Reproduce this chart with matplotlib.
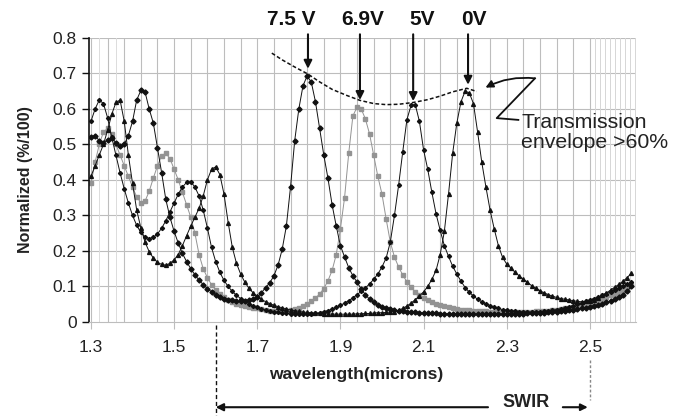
import numpy as np
import matplotlib
matplotlib.use("Agg")
import matplotlib.pyplot as plt
import matplotlib.transforms as mtransforms

plt.rcParams["font.family"] = ["Liberation Sans", "DejaVu Sans"]

# wavelength grid (microns), one reading every 0.01
wavelength = np.round(np.linspace(1.30, 2.60, 131), 2)

# normalized transmission, 1.30 ... 2.60
t_75v = [
    0.52, 0.525, 0.51, 0.505, 0.512, 0.518, 0.505, 0.495, 0.50, 0.525,
    0.565, 0.625, 0.652, 0.648, 0.60, 0.56, 0.49, 0.42, 0.345, 0.295,
    0.255, 0.222, 0.193, 0.17, 0.15, 0.133, 0.118, 0.105, 0.094, 0.085,
    0.077, 0.071, 0.066, 0.063, 0.061, 0.059, 0.058, 0.059, 0.061, 0.064,
    0.069, 0.082, 0.097, 0.11, 0.13, 0.16, 0.205, 0.27, 0.38, 0.51,
    0.60, 0.665, 0.693, 0.675, 0.62, 0.545, 0.47, 0.405, 0.33, 0.27,
    0.215, 0.183, 0.153, 0.13, 0.112, 0.093, 0.077, 0.064, 0.055, 0.048,
    0.043, 0.039, 0.036, 0.034, 0.032, 0.030, 0.029, 0.028, 0.027, 0.026,
    0.025, 0.025, 0.024, 0.024, 0.023, 0.023, 0.023, 0.022, 0.022, 0.022,
    0.022, 0.022, 0.022, 0.022, 0.022, 0.022, 0.022, 0.022, 0.022, 0.022,
    0.022, 0.022, 0.023, 0.023, 0.023, 0.024, 0.024, 0.025, 0.025, 0.026,
    0.027, 0.028, 0.029, 0.030, 0.031, 0.033, 0.034, 0.036, 0.038, 0.040,
    0.042, 0.045, 0.048, 0.051, 0.055, 0.059, 0.064, 0.070, 0.077, 0.087,
    0.10,
]
t_69v = [
    0.39, 0.45, 0.50, 0.535, 0.545, 0.53, 0.50, 0.47, 0.44, 0.41,
    0.38, 0.352, 0.336, 0.34, 0.368, 0.405, 0.44, 0.468, 0.475, 0.46,
    0.43, 0.40, 0.365, 0.33, 0.295, 0.25, 0.19, 0.15, 0.125, 0.105,
    0.09, 0.079, 0.07, 0.063, 0.057, 0.052, 0.048, 0.045, 0.042, 0.04,
    0.038, 0.036, 0.034, 0.032, 0.031, 0.030, 0.030, 0.031, 0.033, 0.036,
    0.040, 0.045, 0.051, 0.058, 0.067, 0.079, 0.094, 0.116, 0.145, 0.19,
    0.262, 0.35, 0.475, 0.58, 0.605, 0.60, 0.572, 0.53, 0.47, 0.41,
    0.36, 0.29, 0.225, 0.183, 0.155, 0.132, 0.113, 0.098, 0.085, 0.075,
    0.067, 0.061, 0.056, 0.051, 0.047, 0.044, 0.041, 0.039, 0.037, 0.035,
    0.034, 0.033, 0.032, 0.031, 0.030, 0.030, 0.029, 0.029, 0.028, 0.028,
    0.028, 0.028, 0.028, 0.028, 0.028, 0.029, 0.029, 0.030, 0.030, 0.031,
    0.032, 0.033, 0.035, 0.036, 0.038, 0.040, 0.042, 0.045, 0.048, 0.051,
    0.054, 0.058, 0.062, 0.066, 0.070, 0.075, 0.080, 0.085, 0.091, 0.098,
    0.105,
]
t_5v = [
    0.565, 0.60, 0.625, 0.615, 0.575, 0.52, 0.47, 0.42, 0.375, 0.335,
    0.30, 0.272, 0.252, 0.24, 0.235, 0.238, 0.248, 0.264, 0.285, 0.31,
    0.335, 0.36, 0.38, 0.393, 0.395, 0.38, 0.355, 0.315, 0.265, 0.21,
    0.17, 0.14, 0.117, 0.10, 0.086, 0.075, 0.066, 0.058, 0.051, 0.046,
    0.041, 0.037, 0.034, 0.031, 0.029, 0.027, 0.025, 0.024, 0.023, 0.022,
    0.022, 0.022, 0.022, 0.023, 0.024, 0.026, 0.029, 0.032, 0.036, 0.041,
    0.047, 0.053, 0.06, 0.068, 0.077, 0.086, 0.096, 0.107, 0.12, 0.135,
    0.155, 0.18, 0.225, 0.30, 0.385, 0.48, 0.57, 0.61, 0.612, 0.565,
    0.485, 0.43, 0.365, 0.305, 0.258, 0.215, 0.185, 0.157, 0.135, 0.115,
    0.097, 0.084, 0.073, 0.064, 0.057, 0.051, 0.046, 0.042, 0.038, 0.035,
    0.033, 0.031, 0.030, 0.029, 0.028, 0.028, 0.028, 0.028, 0.029, 0.030,
    0.031, 0.033, 0.035, 0.037, 0.040, 0.043, 0.046, 0.050, 0.054, 0.058,
    0.062, 0.066, 0.070, 0.075, 0.080, 0.085, 0.090, 0.095, 0.10, 0.106,
    0.112,
]
t_0v = [
    0.41, 0.44, 0.47, 0.50, 0.54, 0.585, 0.618, 0.625, 0.565, 0.47,
    0.39, 0.315, 0.265, 0.225, 0.198, 0.18, 0.168, 0.162, 0.16, 0.165,
    0.175, 0.19, 0.215, 0.243, 0.27, 0.295, 0.32, 0.355, 0.40, 0.43,
    0.437, 0.415, 0.36, 0.28, 0.21, 0.165, 0.135, 0.112, 0.095, 0.082,
    0.072, 0.064, 0.057, 0.052, 0.047, 0.043, 0.040, 0.037, 0.034, 0.032,
    0.030, 0.028, 0.027, 0.026, 0.025, 0.024, 0.023, 0.023, 0.022, 0.022,
    0.022, 0.022, 0.022, 0.022, 0.023, 0.023, 0.024, 0.024, 0.025, 0.026,
    0.026, 0.027, 0.028, 0.029, 0.033, 0.038, 0.045, 0.053, 0.063, 0.073,
    0.085, 0.10, 0.12, 0.145, 0.19, 0.255, 0.36, 0.475, 0.56, 0.62,
    0.65, 0.645, 0.615, 0.535, 0.45, 0.38, 0.315, 0.262, 0.215, 0.182,
    0.163, 0.152, 0.14, 0.13, 0.12, 0.112, 0.102, 0.095, 0.088, 0.082,
    0.077, 0.073, 0.069, 0.066, 0.064, 0.062, 0.060, 0.058, 0.057, 0.058,
    0.060, 0.063, 0.068, 0.075, 0.082, 0.090, 0.098, 0.106, 0.115, 0.125,
    0.138,
]

# peak labels and where their arrows point
peak_labels = ["7.5 V", "6.9V", "5V", "0V"]
peak_label_x = [1.781, 1.954, 2.096, 2.221]
peak_x = [1.822, 1.947, 2.075, 2.207]
peak_tip_y = [0.713, 0.625, 0.622, 0.668]

# hand-drawn transmission envelope
env_x = [1.735, 1.76, 1.79, 1.822, 1.85, 1.88, 1.915, 1.947, 1.98, 2.01,
         2.04, 2.075, 2.11, 2.14, 2.17, 2.204, 2.228]
env_y = [0.757, 0.738, 0.718, 0.698, 0.676, 0.655, 0.638, 0.624, 0.615, 0.612,
         0.613, 0.618, 0.626, 0.636, 0.648, 0.658, 0.649]

swir_start, swir_end = 1.6, 2.5

fig = plt.figure(figsize=(6.83, 4.16), dpi=100)
ax = fig.add_axes([0.131, 0.226, 0.800, 0.683])

# grid: horizontal every 0.1, vertical every 0.04 plus faint dense strip at the right
for y in np.arange(0.1, 0.81, 0.1):
    ax.axhline(y, color="#bdbdbd", lw=0.8, zorder=0)
for x in np.arange(1.30, 2.505, 0.04):
    ax.axvline(x, color="#bdbdbd", lw=0.8, zorder=0)
for x in [1.32, 1.36]:
    ax.axvline(x, color="#dcdcdc", lw=0.7, zorder=0)
for x in np.arange(2.512, 2.612, 0.012):
    ax.axvline(x, color="#d6d6d6", lw=0.7, zorder=0)

black = "#111111"
grey = "#939393"
ax.plot(wavelength, t_75v, color=black, lw=0.7, marker="D", ms=2.6, zorder=3)
ax.plot(wavelength, t_69v, color=grey, lw=0.7, marker="s", ms=2.6, zorder=2)
ax.plot(wavelength, t_5v, color=black, lw=0.7, marker="D", ms=2.1, zorder=3)
ax.plot(wavelength, t_0v, color=black, lw=0.7, marker="^", ms=2.8, zorder=3)

# envelope
ax.plot(env_x, env_y, color=black, lw=1.1, ls=(0, (2.5, 1.5)), zorder=4, clip_on=False)

# voltage labels with arrows
for lab, lx, px, ty in zip(peak_labels, peak_label_x, peak_x, peak_tip_y):
    ax.text(lx, 0.852, lab, ha="center", va="center", fontsize=15,
            fontweight="bold", color=black, clip_on=False)
    ax.annotate("", xy=(px, ty), xytext=(px, 0.81),
                arrowprops=dict(arrowstyle="-|>", lw=1.5, color=black,
                                mutation_scale=12, shrinkA=0, shrinkB=0),
                annotation_clip=False)

# "Transmission envelope" callout with its Z-shaped pointer
ax.plot([2.328, 2.276, 2.368], [0.569, 0.574, 0.686], color=black, lw=1.3,
        clip_on=False, zorder=4)
ax.annotate("", xy=(2.249, 0.660), xytext=(2.368, 0.686),
            arrowprops=dict(arrowstyle="-|>", lw=1.3, color=black,
                            mutation_scale=11, shrinkA=0, shrinkB=0,
                            connectionstyle="arc3,rad=0.15"),
            annotation_clip=False)
ax.text(2.335, 0.533, "Transmission\nenvelope >60%", ha="left", va="center",
        fontsize=15.3, color="#222222", linespacing=1.1, clip_on=False)

ax.set_xlim(1.2964, 2.6107)
ax.set_ylim(0, 0.8)
ax.set_xticks([1.3, 1.5, 1.7, 1.9, 2.1, 2.3, 2.5])
ax.set_xticklabels(["1.3", "1.5", "1.7", "1.9", "2.1", "2.3", "2.5"])
ax.set_yticks(np.arange(0, 0.81, 0.1))
ax.set_yticklabels(["0", "0.1", "0.2", "0.3", "0.4", "0.5", "0.6", "0.7", "0.8"])
ax.tick_params(axis="x", direction="out", length=5, width=0.8, color="#bdbdbd",
               labelsize=12.5, labelcolor="#222222", pad=8)
ax.tick_params(axis="y", direction="out", length=5, width=1.0, color=black,
               labelsize=12.5, labelcolor="#222222", pad=4)

for side in ["top", "right"]:
    ax.spines[side].set_visible(False)
ax.spines["left"].set_color(black)
ax.spines["left"].set_linewidth(1.2)
ax.spines["bottom"].set_color("#bdbdbd")
ax.spines["bottom"].set_linewidth(0.8)

ax.set_xlabel("wavelength(microns)", fontsize=12.5, fontweight="bold", color="#222222")
ax.xaxis.set_label_coords(0.489, -0.16)
ax.set_ylabel("Normalized (%/100)", fontsize=11.5, fontweight="bold", color="#222222")
ax.yaxis.set_label_coords(-0.103, 0.503)

# SWIR band marker below the axis
trans = mtransforms.blended_transform_factory(ax.transData, ax.transAxes)
ax.plot([swir_start, swir_start], [-0.01, -0.335], transform=trans, color=black,
        lw=1.0, ls=(0, (3, 2)), clip_on=False)
ax.plot([swir_end, swir_end], [-0.135, -0.275], transform=trans, color="#888888",
        lw=1.0, ls=(0, (2, 1.5)), clip_on=False)
ax.annotate("", xy=(swir_start, -0.30), xycoords=trans,
            xytext=(2.255, -0.30), textcoords=trans,
            arrowprops=dict(arrowstyle="-|>", lw=1.5, color=black,
                            mutation_scale=11, shrinkA=0, shrinkB=0),
            annotation_clip=False)
ax.annotate("", xy=(swir_end - 0.005, -0.30), xycoords=trans,
            xytext=(2.435, -0.30), textcoords=trans,
            arrowprops=dict(arrowstyle="-|>", lw=1.5, color=black,
                            mutation_scale=10, shrinkA=0, shrinkB=0),
            annotation_clip=False)
ax.text(2.346, -0.285, "SWIR", transform=trans, ha="center", va="center",
        fontsize=13, fontweight="bold", color="#222222", clip_on=False)

fig.savefig("out.png", dpi=100)
